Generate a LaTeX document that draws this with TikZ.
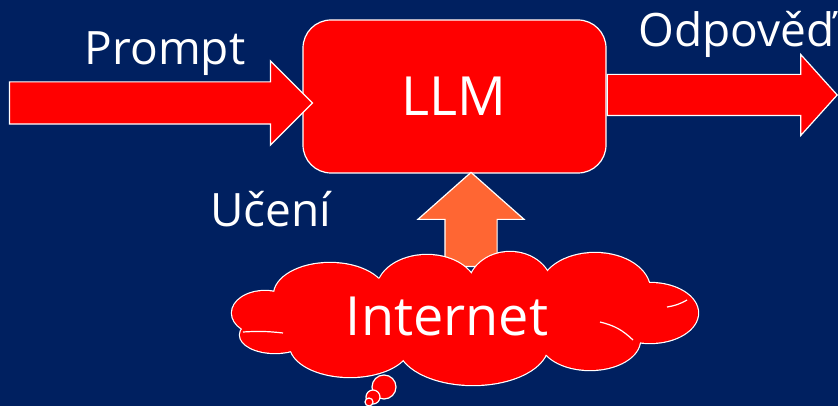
\documentclass[tikz,border=0pt]{standalone}
\usepackage{fontspec}
\setmainfont{Open Sans}
\usetikzlibrary{shapes.arrows}
\definecolor{navy}{RGB}{0,32,96}
\definecolor{orng}{RGB}{255,102,51}

\begin{document}
\begin{tikzpicture}[x=1pt,y=-1pt,line width=1.2pt,
  lbl/.style={text=white,inner sep=0pt,font=\fontsize{46}{50}\selectfont},
  big/.style={text=white,inner sep=0pt,font=\fontsize{54}{58}\selectfont},
  blockarr/.style={single arrow,draw=white,fill=red,single arrow head indent=0pt}]
\fill[navy](0,0) rectangle (838,406);
\useasboundingbox (0,0) rectangle (838,406);
\node[draw=white,fill=red,rounded corners=28pt,minimum width=303pt,minimum height=153pt,inner sep=0pt](llm) at (454.5,96.5){};
\node[big,anchor=base](llmt) at (454,116){LLM};
% in and out
\node[blockarr,inner sep=20.5pt,single arrow head extend=21pt,minimum width=83pt,minimum height=303pt,anchor=tip](prompt) at ([shift={(11,6.5)}]llm.west){};
\node[blockarr,inner sep=20pt,single arrow head extend=20pt,minimum width=80pt,minimum height=230pt,single arrow tip angle=96,anchor=tail](out) at ([shift={(0,-1.5)}]llm.east){};
\node[lbl,anchor=base](promptt) at (165,65){Prompt};
\node[lbl,anchor=base west](outt) at (638,47){Odpověď};
% learning
\node[single arrow,draw=white,fill=orng,shape border rotate=90,inner sep=25.5pt,single arrow head extend=27pt,minimum width=105pt,minimum height=94pt,single arrow tip angle=97,single arrow head indent=0pt,anchor=tip](learn) at ([shift={(16.5,-2)}]llm.south){};
\node[lbl,anchor=base](learnt) at (271,226){Učení};
% cloud: outline of all puffs, then fill over
\foreach \x/\y/\rx/\ry in {330/295/56/32,427/290/50/35,510/288/42/36,595/290/55/37,650/313/48/30,590/340/50/30,473/345/75/40,350/345/60/32,265/313/33/22,275/335/35/18}
  \draw[white,line width=2.4pt] (\x,\y) ellipse [x radius=\rx, y radius=\ry];
\foreach \x/\y/\rx/\ry in {330/295/56/32,427/290/50/35,510/288/42/36,595/290/55/37,650/313/48/30,590/340/50/30,473/345/75/40,350/345/60/32,265/313/33/22,275/335/35/18,465/316/190/42}
  \fill[red] (\x,\y) ellipse [x radius=\rx, y radius=\ry];
\draw[white] (243,332) to[bend left=5] (283,333);
\draw[white] (600,322) to[bend left=15] (633,340);
\draw[white] (667,307) to[bend right=10] (687,300);
\node[big,anchor=base](net) at (447,335){Internet};
\node[circle,draw=white,fill=red,minimum size=24pt,inner sep=0pt](b1) at (384,387){};
\node[circle,draw=white,fill=red,minimum size=14pt,inner sep=0pt](b2) at (373,397){};
\node[circle,draw=white,fill=red,minimum size=8pt,inner sep=0pt](b3) at (369,402){};
\end{tikzpicture}
\end{document}
